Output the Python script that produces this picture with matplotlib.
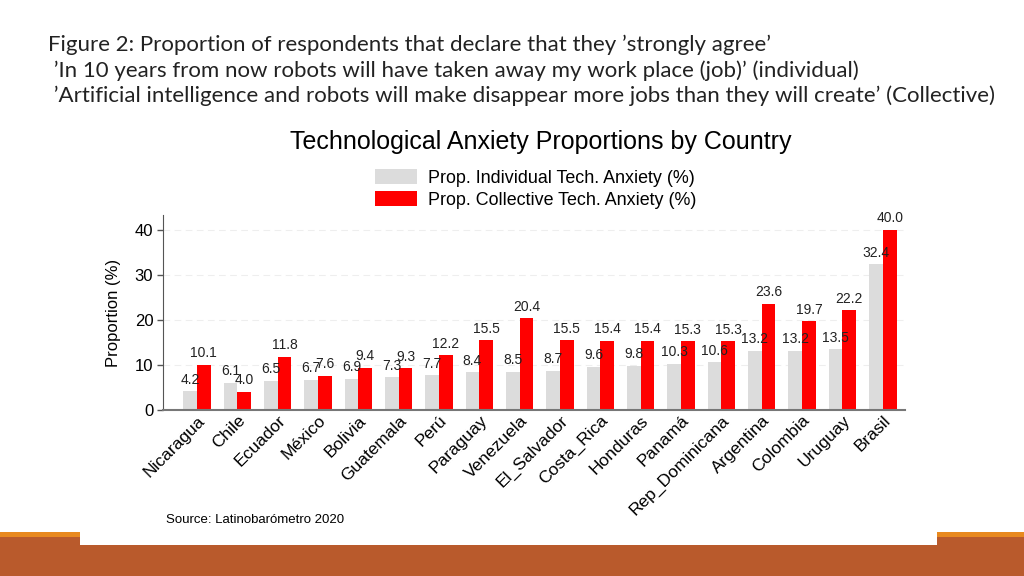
import matplotlib
matplotlib.use("Agg")
import matplotlib.pyplot as plt
import numpy as np
from matplotlib.patches import Rectangle

countries = ["Nicaragua", "Chile", "Ecuador", "México", "Bolivia", "Guatemala", "Perú",
             "Paraguay", "Venezuela", "El_Salvador", "Costa_Rica", "Honduras", "Panamá",
             "Rep_Dominicana", "Argentina", "Colombia", "Uruguay", "Brasil"]
individual = [4.2, 6.1, 6.5, 6.7, 6.9, 7.3, 7.7, 8.4, 8.5, 8.7, 9.6, 9.8, 10.3, 10.6, 13.2, 13.2, 13.5, 32.4]
collective = [10.1, 4.0, 11.8, 7.6, 9.4, 9.3, 12.2, 15.5, 20.4, 15.5, 15.4, 15.4, 15.3, 15.3, 23.6, 19.7, 22.2, 40.0]
yticks = [0, 10, 20, 30, 40]
legend_labels = ["Prop. Individual Tech. Anxiety (%)", "Prop. Collective Tech. Anxiety (%)"]
chart_title = "Technological Anxiety Proportions by Country"
slide_title = ["Figure 2: Proportion of respondents that declare that they \u2019strongly agree\u2019",
               " \u2019In 10 years from now robots will have taken away my work place (job)\u2019 (individual)",
               " \u2019Artificial intelligence and robots will make disappear more jobs than they will create\u2019 (Collective)"]
source = "Source: Latinobarómetro 2020"

W, H = 1024, 576
fig = plt.figure(figsize=(W / 100, H / 100), dpi=100)
fig.patch.set_facecolor("white")

def fx(px):
    return px / W

def fy(py):
    return 1 - py / H

# slide decorations (orange bands)
fig.patches.append(Rectangle((0, fy(537)), 1, fy(532) - fy(537), transform=fig.transFigure,
                             facecolor="#e8891f", edgecolor="none", zorder=0))
fig.patches.append(Rectangle((0, 0), 1, fy(537), transform=fig.transFigure,
                             facecolor="#b95a2c", edgecolor="none", zorder=0))
fig.patches.append(Rectangle((fx(80), fy(545)), fx(937) - fx(80), fy(120) - fy(545),
                             transform=fig.transFigure, facecolor="white", edgecolor="none", zorder=1))

# slide title
title_font = ["Lato", "DejaVu Sans"]
for i, line in enumerate(slide_title):
    fig.text(fx(48), fy(45 + 25.5 * i), line, family=title_font, fontsize=16,
             color="#222222", va="center", ha="left")

ax = fig.add_axes([fx(163), fy(410), fx(905) - fx(163), fy(215) - fy(410)])
ax.set_zorder(2)
ax.patch.set_alpha(0)

lab_font = ["Liberation Sans", "DejaVu Sans"]
x = np.arange(len(countries))
bw = 0.34
b1 = ax.bar(x - bw / 2, individual, bw, color="#dcdcdc", label=legend_labels[0], zorder=2)
b2 = ax.bar(x + bw / 2, collective, bw, color="#ff0000", label=legend_labels[1], zorder=2)

for xi, v in zip(x - bw / 2, individual):
    ax.text(xi, v + 1.0, f"{v:.1f}", ha="center", va="bottom", fontsize=10,
            family=lab_font, color="#222222", zorder=3)
for xi, v in zip(x + bw / 2, collective):
    ax.text(xi, v + 1.0, f"{v:.1f}", ha="center", va="bottom", fontsize=10,
            family=lab_font, color="#222222", zorder=3)

ax.set_xlim(-0.84, 17.55)
ax.set_ylim(0, 43.3)
ax.set_yticks(yticks)
ax.set_yticklabels([str(t) for t in yticks], fontsize=12, family=lab_font)
ax.set_xticks(x)
ax.set_xticklabels(countries, rotation=45, ha="right", rotation_mode="anchor",
                   fontsize=12.5, family=lab_font)
ax.tick_params(axis="x", length=0, pad=2)
ax.tick_params(axis="y", length=4, color="#555555", width=1, pad=3)
for t in yticks[1:]:
    ax.axhline(t, color="#eeeeee", lw=0.8, ls=(0, (6, 4)), zorder=1)
ax.spines["top"].set_visible(False)
ax.spines["right"].set_visible(False)
ax.spines["left"].set_color("#555555")
ax.spines["bottom"].set_color("#777777")
ax.spines["bottom"].set_linewidth(1.5)
ax.set_ylabel("Proportion (%)", fontsize=12, family=lab_font, labelpad=10)

fig.text(fx(541), fy(142), chart_title, ha="center", va="center", fontsize=18,
         family=lab_font, zorder=3)

fig.legend([b1, b2], legend_labels, loc="upper left", bbox_to_anchor=(fx(366), fy(160)),
           frameon=False, handlelength=2.35, handleheight=0.95,
           handletextpad=0.6, labelspacing=0.22, borderpad=0,
           prop={"family": lab_font, "size": 12.9})

fig.text(fx(166), fy(520), source, fontsize=9.5, family=lab_font,
         ha="left", va="center", zorder=3)

fig.savefig("out.png", dpi=100)
